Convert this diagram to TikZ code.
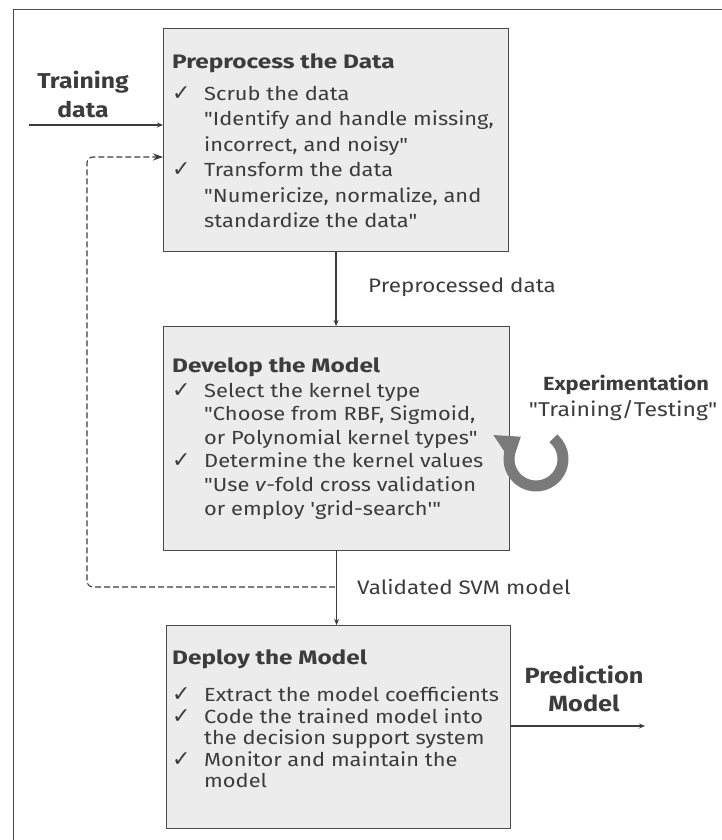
\documentclass[tikz,border=0pt]{standalone}
\usepackage{fontspec}
\newfontfamily\fira{Fira Sans}[FakeStretch=1.15]
\newfontfamily\firaT{Fira Sans}[FakeStretch=1.25]
\newfontfamily\symf{DejaVu Sans}
\usetikzlibrary{arrows.meta,calc}
\definecolor{txt}{HTML}{3C3C3C}
\definecolor{boxfill}{HTML}{ECECEC}
\definecolor{boxline}{HTML}{4A4A4A}
\definecolor{loopgray}{HTML}{7A7A7A}
\newcommand\chk{\makebox[32pt][l]{\symf\fontsize{22}{22}\selectfont ✓}}
\newcommand\ind{\hspace*{32pt}}
\newcommand\ttl[1]{{\firaT\bfseries\fontsize{19.5}{20}\selectfont #1}}
\begin{document}
\begin{tikzpicture}[x=1pt,y=-1pt,
  box/.style={draw=boxline,fill=boxfill,line width=1.1pt,anchor=north west,inner sep=0pt},
  boxtext/.style={anchor=north west,align=left,inner sep=0pt,text=txt,font=\fira\fontsize{19}{25.5}\selectfont},
  lbl/.style={text=txt,font=\fira\fontsize{19.5}{24}\selectfont,inner sep=0pt,anchor=west},
  biglbl/.style={text=txt,font=\fira\fontsize{21.5}{29}\selectfont\bfseries,align=center,inner sep=0pt},
  conn/.style={draw=txt,line width=1.3pt,-{Stealth[length=6pt,width=5pt]}},
  dashconn/.style={draw=txt,line width=1.1pt,dash pattern=on 6pt off 3pt,rounded corners=6pt,-{Stealth[length=10pt,width=7pt]}}]
\useasboundingbox (0,0) rectangle (722,840);
% frame
\draw[draw=boxline,line width=1pt] (13,840) -- (13,10) -- (722,10);
% boxes
\node[box,minimum width=345pt,minimum height=223pt] (b1) at (163,28) {};
\node[box,minimum width=346pt,minimum height=224pt] (b2) at (163,326) {};
\node[box,minimum width=344pt,minimum height=203pt] (b3) at (166,625) {};
% box texts
\node[boxtext] (t1) at (172,54) {\ttl{Preprocess the Data}\\[6pt]
\chk Scrub the data\\
\ind "Identify and handle missing,\\
\ind incorrect, and noisy"\\
\chk Transform the data\\
\ind "Numericize, normalize, and\\
\ind standardize the data"};
\node[boxtext,font=\fira\fontsize{19}{23.6}\selectfont] (t2) at (172,357) {\ttl{Develop the Model}\\[1.5pt]
\chk Select the kernel type\\
\ind "Choose from RBF, Sigmoid,\\
\ind or Polynomial kernel types"\\
\chk Determine the kernel values\\
\ind "Use \textit{v}-fold cross validation\\
\ind or employ 'grid-search'"};
\node[boxtext,font=\fira\fontsize{19}{21.5}\selectfont] (t3) at (172,649) {\ttl{Deploy the Model}\\[16pt]
\chk Extract the model coefficients\\
\chk Code the trained model into\\
\ind the decision support system\\
\chk Monitor and maintain the\\
\ind model};
% side labels
\node[biglbl] (train) at (83,94) {Training\\data};
\node[biglbl,font=\fira\fontsize{22}{28}\selectfont\bfseries] (pred) at (584,689) {Prediction\\Model};
\node[lbl] (ppd) at (368,287) {Preprocessed data};
\node[lbl] (vsm) at (357,587) {Validated SVM model};
\node[text=txt,font=\fira\fontsize{19}{25}\selectfont\bfseries,inner sep=0pt] (exp) at (626,385) {Experimentation};
\node[text=txt,font=\fira\fontsize{20}{25}\selectfont,inner sep=0pt] (tt) at (623,411) {"Training/Testing"};
% connectors
\coordinate (tin) at (29,125);
\draw[conn] (tin) -- (tin -| b1.west);
\draw[conn] (b1.south) -- (b1.south |- b2.north);
\draw[conn] (b2.south) -- (b2.south |- b3.north);
\coordinate (pout) at (645,726);
\draw[conn] (pout -| b3.east) -- (pout);
\coordinate (d1) at (335,587);
\coordinate (d2) at (87,157);
\draw[dashconn] (d1) -- (d1 -| d2) -- (d2) -- (d2 -| b1.west);
% experimentation loop
\coordinate (lc) at (536,459);
\draw[loopgray,line width=11pt,-{Triangle[length=22pt,width=32pt]}] ($(lc)+(-50:27)$) arc[start angle=-50,end angle=236,radius=27];
\end{tikzpicture}
\end{document}
